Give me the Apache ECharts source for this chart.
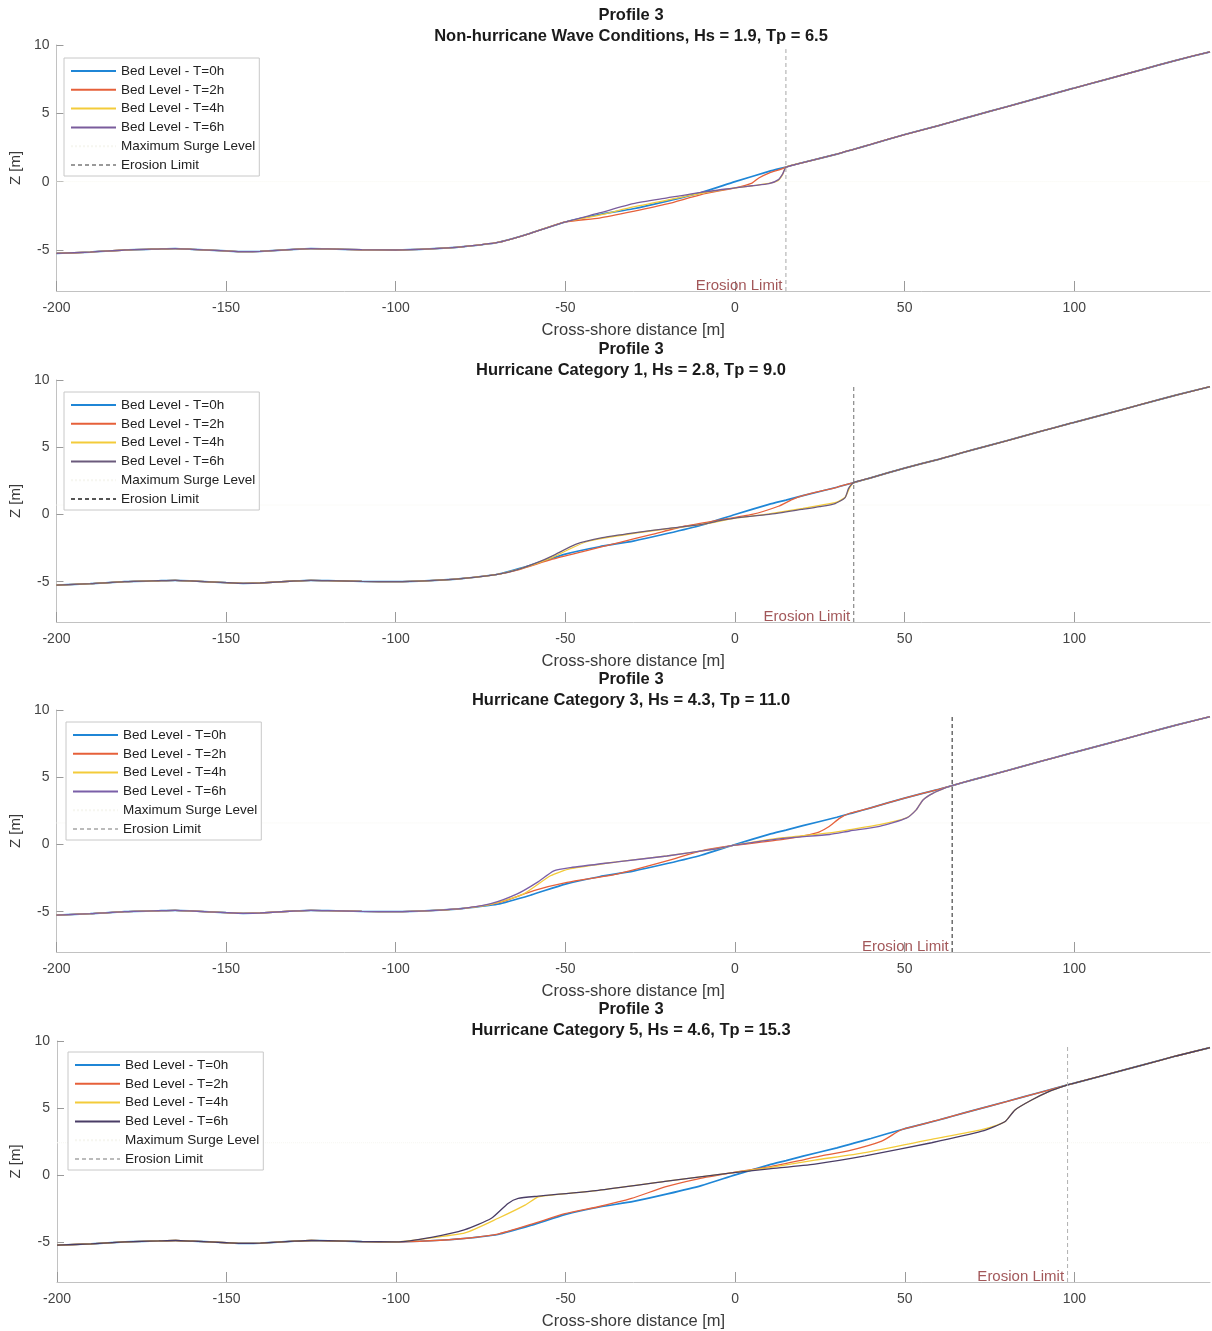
<!DOCTYPE html>
<html>
<head>
<meta charset="utf-8">
<script src="https://cdn.jsdelivr.net/npm/echarts@6/dist/echarts.min.js"></script>
<style>
  html, body { margin: 0; padding: 0; background: #fff; }
  #chart { width: 1212px; height: 1331px; }
</style>
</head>
<body>
<div id="chart"></div>
<script>
// Cross-shore bed profiles for Profile 3 under four wave scenarios.

const profileName = 'Profile 3';
const conditions = [
  'Non-hurricane Wave Conditions, Hs = 1.9, Tp = 6.5',
  'Hurricane Category 1, Hs = 2.8, Tp = 9.0',
  'Hurricane Category 3, Hs = 4.3, Tp = 11.0',
  'Hurricane Category 5, Hs = 4.6, Tp = 15.3'
];
const seriesNames = ['Bed Level - T=0h', 'Bed Level - T=2h', 'Bed Level - T=4h',
                     'Bed Level - T=6h', 'Maximum Surge Level', 'Erosion Limit'];
const xTicks = [-200, -150, -100, -50, 0, 50, 100];
const zTicks = [-5, 0, 5, 10];

// Initial bed (T=0h), shared by all scenarios
const bedX = [-200,-190,-180,-170,-165,-160,-150,-145,-140,-130,-125,-120,-110,-100,-90,-80,-70,-60,-50,-40,
              -30,-20,-10,0,10,15,20,30,35,40,50,60,64,70,80,90,98,100,110,120,130,140];
const bedZ = [-5.25,-5.15,-5.0,-4.93,-4.9,-4.95,-5.07,-5.12,-5.1,-4.95,-4.9,-4.92,-4.98,-5.0,-4.92,-4.75,-4.45,-3.75,-2.95,-2.4,
              -1.98,-1.42,-0.8,0.0,0.75,1.07,1.4,2.02,2.37,2.72,3.45,4.1,4.38,4.8,5.48,6.17,6.72,6.85,7.52,8.2,8.88,9.5];

// Reshaped stretch of each later bed (outside it the bed is unchanged)
const nhT2X = [-50,-40,-30,-20,-10,0,5,7,10,13.8,15];
const nhT2Z = [-2.95,-2.66,-2.17,-1.63,-0.95,-0.45,-0.1,0.27,0.63,0.93,1.07];
const nhT4X = [-50,-40,-30,-20,-10,0,5,10,12.5,14,15];
const nhT4Z = [-2.95,-2.45,-1.85,-1.35,-0.86,-0.46,-0.3,-0.12,0.05,0.5,1.07];
const nhT6X = [-50,-40,-30,-20,-10,0,5,10,12.8,14,14.6,15];
const nhT6Z = [-2.95,-2.29,-1.61,-1.19,-0.78,-0.46,-0.3,-0.15,0.15,0.55,0.88,1.07];

const c1T2X = [-70,-63.6,-53.8,-44,-34.2,-24.4,-14.6,-4.8,5,12.8,16.8,20];
const c1T2Z = [-4.45,-4.1,-3.33,-2.71,-2.09,-1.48,-0.86,-0.42,0.0,0.61,1.1,1.4];
const c1T4X = [-70,-63.6,-58,-53.8,-48.9,-44,-39.1,-29.3,-19.5,-9.7,0,10,20,25,30,32.5,33.8,35];
const c1T4Z = [-4.45,-4.06,-3.6,-3.2,-2.59,-2.05,-1.78,-1.38,-1.05,-0.74,-0.28,0.05,0.45,0.68,0.92,1.3,2.0,2.37];
const c1T6X = [-70,-63.6,-58,-53.8,-47,-39.1,-29.3,-19.5,-9.7,-3.8,0,10,19.7,25,29.5,32.4,33.4,34.2,35];
const c1T6Z = [-4.45,-4.06,-3.55,-3.08,-2.22,-1.72,-1.35,-1.03,-0.74,-0.42,-0.27,0.0,0.37,0.58,0.81,1.23,1.9,2.2,2.37];

const c3T2X = [-80,-69.1,-59.3,-49.5,-34.8,-20.1,-10.3,-0.5,14.2,24,27.5,30.9,33.8,40];
const c3T2Z = [-4.75,-4.29,-3.43,-2.82,-2.2,-1.23,-0.49,-0.07,0.37,0.86,1.3,1.96,2.32,2.72];
const c3T4X = [-80,-72,-62.3,-54.4,-48.5,-34.8,-20.1,-5.4,-0.5,14.2,27.9,33.8,42.6,50.5,53.4,55.4,58.3,62.3,64];
const c3T4Z = [-4.75,-4.45,-3.68,-2.33,-1.8,-1.3,-0.86,-0.32,-0.07,0.5,0.86,1.1,1.47,1.98,2.57,3.31,3.8,4.24,4.38];
const c3T6X = [-80,-72,-64.2,-58.3,-53.4,-48.5,-34.8,-20.1,-5.4,-0.5,14.2,27.9,33.8,42.6,50.5,53.4,55.4,58.3,62.3,64];
const c3T6Z = [-4.75,-4.41,-3.68,-2.82,-1.96,-1.72,-1.3,-0.86,-0.32,-0.07,0.45,0.74,1.0,1.35,1.96,2.57,3.31,3.8,4.24,4.38];

const c5T2X = [-70,-60,-50.2,-40.4,-30.6,-20.7,-10.9,-1.1,10,18.6,25,33.3,43.2,48.1,50];
const c5T2Z = [-4.42,-3.68,-2.9,-2.38,-1.76,-0.9,-0.29,0.15,0.6,1.05,1.4,1.79,2.52,3.26,3.45];
const c5T4X = [-100,-89.6,-79.7,-69.9,-62,-58.1,-55,-40.4,-20.7,-1.1,10,23.5,38.3,57.9,72.7,77,79.6,82.5,87.4,92.3,98];
const c5T4Z = [-5.0,-4.7,-4.34,-3.24,-2.26,-1.64,-1.53,-1.15,-0.49,0.15,0.55,1.1,1.67,2.65,3.38,3.7,3.99,4.85,5.59,6.2,6.72];
const c5T6X = [-100,-89.6,-79.7,-71.9,-67,-64,-58.1,-40.4,-20.7,-1.1,10,23.5,38.3,57.9,72.7,79.6,82.5,87.4,92.3,98];
const c5T6Z = [-5.0,-4.66,-4.09,-3.24,-2.13,-1.76,-1.59,-1.15,-0.49,0.15,0.45,0.81,1.42,2.4,3.26,3.99,4.85,5.59,6.2,6.72];

const erosionLimit = [15, 35, 64, 98];
const surgeLevel = [0.0, 0.7, 1.6, 2.4];

// ---- layout and styling ----
const gridTop = [45, 380, 710, 1041];
const gridHeight = [246, 242, 242, 243];
const gridLeft = [54, 54, 55, 57];
const titleTop = [0, 334, 664, 994];
const legendLeft = [64, 64, 66, 68];
const legendTop = [58, 392, 722, 1052];
const colT0 = '#1f86d6', colT2 = '#e6603a', colT4 = '#f3cb3a';
const colT6 = ['#7a5c9c', '#6b5a7c', '#7a5fa8', '#4a3d66'];
const colErosion = ['#a8a8a8', '#707070', '#222222', '#b0b0b0'];
const colErosionKey = ['#9a9a9a', '#555555', '#bbbbbb', '#bbbbbb'];
const font = '"Liberation Sans", Arial, Helvetica, sans-serif';

// Bed after reshaping: unchanged bed outside the reshaped stretch
function reshapedBed(segX, segZ) {
  const lo = segX[0], hi = segX[segX.length - 1];
  const pts = [];
  bedX.forEach((x, i) => { if (x < lo) pts.push([x, bedZ[i]]); });
  segX.forEach((x, i) => pts.push([x, segZ[i]]));
  bedX.forEach((x, i) => { if (x > hi) pts.push([x, bedZ[i]]); });
  return pts;
}
const initialBed = bedX.map((x, i) => [x, bedZ[i]]);
const scenarioBeds = [
  [reshapedBed(nhT2X, nhT2Z), reshapedBed(nhT4X, nhT4Z), reshapedBed(nhT6X, nhT6Z)],
  [reshapedBed(c1T2X, c1T2Z), reshapedBed(c1T4X, c1T4Z), reshapedBed(c1T6X, c1T6Z)],
  [reshapedBed(c3T2X, c3T2Z), reshapedBed(c3T4X, c3T4Z), reshapedBed(c3T6X, c3T6Z)],
  [reshapedBed(c5T2X, c5T2Z), reshapedBed(c5T4X, c5T4Z), reshapedBed(c5T6X, c5T6Z)]
];

const option = {
  animation: false,
  backgroundColor: '#ffffff',
  title: [], grid: [], xAxis: [], yAxis: [], legend: [], series: []
};

for (let p = 0; p < 4; p++) {
  option.title.push({
    text: profileName + '\n' + conditions[p],
    left: 626, top: titleTop[p], textAlign: 'center',
    textStyle: { fontFamily: font, fontSize: 16.5, fontWeight: 'bold', lineHeight: 21, color: '#1a1a1a' }
  });
  option.grid.push({ left: gridLeft[p], right: 2, top: gridTop[p], height: gridHeight[p], containLabel: false });
  option.xAxis.push({
    type: 'value', gridIndex: p, min: -200, max: 140,
    name: 'Cross-shore distance [m]', nameLocation: 'middle', nameGap: 31,
    nameTextStyle: { fontFamily: font, fontSize: 16.5, color: '#3a3a3a' },
    axisLine: { show: true, onZero: false, lineStyle: { color: '#c2c2c2', width: 1 } },
    axisTick: { show: true, inside: true, length: 10, customValues: xTicks, lineStyle: { color: '#9a9a9a' } },
    axisLabel: { customValues: xTicks, margin: 10, fontFamily: font, fontSize: 14, color: '#444' },
    splitLine: { show: false }
  });
  option.yAxis.push({
    type: 'value', gridIndex: p, min: -8, max: 10,
    name: 'Z [m]', nameLocation: 'middle', nameGap: 26, nameRotate: 90,
    nameTextStyle: { fontFamily: font, fontSize: 15, color: '#3a3a3a' },
    axisLine: { show: true, onZero: false, lineStyle: { color: '#c2c2c2', width: 1 } },
    axisTick: { show: true, inside: true, length: 7, customValues: zTicks, lineStyle: { color: '#9a9a9a' } },
    axisLabel: { customValues: zTicks, margin: 7, fontFamily: font, fontSize: 14, color: '#444' },
    splitLine: { show: false }
  });
  option.legend.push({
    orient: 'vertical', left: legendLeft[p], top: legendTop[p],
    itemWidth: 45, itemHeight: 14, itemGap: 4.8,
    padding: [6, 4, 4, 6], borderColor: '#c8c8c8', borderWidth: 1,
    selectedMode: false, backgroundColor: '#fff',
    itemStyle: { color: 'rgba(0,0,0,0)', borderWidth: 0, opacity: 0 },
    textStyle: { fontFamily: font, fontSize: 13.5, color: '#222' },
    data: [
      { name: seriesNames[0] }, { name: seriesNames[1] }, { name: seriesNames[2] },
      { name: seriesNames[3], lineStyle: { color: colT6[p] } },
      { name: seriesNames[4] },
      { name: seriesNames[5], lineStyle: { color: colErosionKey[p] } }
    ]
  });

  const line = (name, data, color, width, z) => ({
    type: 'line', name, xAxisIndex: p, yAxisIndex: p, data,
    showSymbol: false, symbol: 'none', smooth: 0.2,
    lineStyle: { color, width }, itemStyle: { color }, z, silent: true
  });
  option.series.push(line(seriesNames[0], initialBed, colT0, 1.7, 2));
  option.series.push(line(seriesNames[1], scenarioBeds[p][0], colT2, 1.3, 3));
  option.series.push(line(seriesNames[2], scenarioBeds[p][1], colT4, 1.3, 4));
  option.series.push(line(seriesNames[3], scenarioBeds[p][2], colT6[p], 1.3, 5));
  option.series.push({
    type: 'line', name: seriesNames[4], xAxisIndex: p, yAxisIndex: p,
    data: [[-200, surgeLevel[p]], [140, surgeLevel[p]]],
    showSymbol: false, symbol: 'none', silent: true, z: 1,
    lineStyle: { color: '#f6f6f0', width: 1, type: 'dotted' }, itemStyle: { color: '#f6f6f0' }
  });
  option.series.push({
    type: 'line', name: seriesNames[5], xAxisIndex: p, yAxisIndex: p,
    data: [[erosionLimit[p], -8], [erosionLimit[p], 9.7]],
    showSymbol: false, symbol: 'none', silent: true, z: 6,
    lineStyle: { color: colErosion[p], width: 1, type: [4, 3] }, itemStyle: { color: colErosion[p] }
  });
  option.series.push({
    type: 'scatter', name: 'erosion-limit-tag', xAxisIndex: p, yAxisIndex: p,
    data: [[erosionLimit[p], -8]], symbolSize: 1, silent: true, z: 7,
    itemStyle: { color: 'rgba(0,0,0,0)' },
    label: { show: true, formatter: 'Erosion Limit', position: 'left', distance: 3, offset: [0, -5],
             fontFamily: font, fontSize: 15, color: '#8b2d30' }
  });
}

const chart = echarts.init(document.getElementById('chart'), null, { renderer: 'canvas' });
chart.setOption(option);
</script>
</body>
</html>
